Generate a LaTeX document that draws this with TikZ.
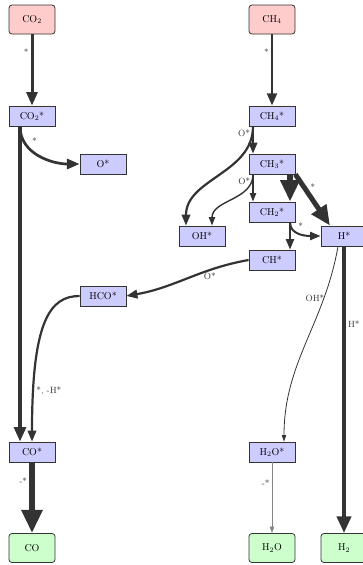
\documentclass[tikz,border=0pt]{standalone}
\usetikzlibrary{arrows.meta,positioning}
\definecolor{gasred}{HTML}{FFCCCC}
\definecolor{adsblue}{HTML}{CCCCFF}
\definecolor{prodgreen}{HTML}{CCFFCC}
\definecolor{edgegray}{HTML}{333333}

\begin{document}
\begin{tikzpicture}[
    x=1pt, y=1pt,
    box/.style={draw=edgegray, line width=0.8pt, minimum width=46pt, inner sep=1pt},
    gas/.style={box, rounded corners=3pt, fill=gasred, minimum height=29pt},
    prod/.style={box, rounded corners=3pt, fill=prodgreen, minimum height=29pt},
    ads/.style={box, fill=adsblue, minimum height=20pt},
    line/.style={draw=edgegray, -{Triangle[length=4pt 3.2, width=2pt 3]}},
    lbl/.style={font=\small, text=edgegray, inner sep=2pt}
]
\useasboundingbox (0,0) rectangle (362,-565);

% Gas phase
\node[gas] (co2) at (32,-19.5) {CO$_2$};
\node[gas] (ch4) at (272,-19.5) {CH$_4$};

% Adsorbed species
\node[ads] (co2s) at (32,-116) {CO$_2$*};
\node[ads] (os) at (103,-164) {O*};
\node[ads] (ch4s) at (272,-116) {CH$_4$*};
\node[ads] (ch3s) at (272,-164) {CH$_3$*};
\node[ads] (ohs) at (202,-236) {OH*};
\node[ads] (ch2s) at (272,-212) {CH$_2$*};
\node[ads] (hs) at (344,-236) {H*};
\node[ads] (chs) at (272,-260) {CH*};
\node[ads] (hcos) at (103,-296) {HCO*};
\node[ads] (cos) at (32,-452) {CO*};
\node[ads] (h2os) at (272,-452) {H$_2$O*};

% Products
\node[prod] (co) at (32,-548) {CO};
\node[prod] (h2o) at (272,-548) {H$_2$O};
\node[prod] (h2) at (344,-548) {H$_2$};

% CO2 side
\draw[line, line width=3pt] (co2) -- node[lbl, left, pos=0.25] {*} (co2s);
\draw[line, line width=2.7pt] ([xshift=-12pt]co2s.south) to[out=-90,in=180] node[lbl, above right, pos=0.32] {*} (os.west);
\draw[line, line width=3.3pt] ([xshift=-12pt]co2s.south) -- ([xshift=-12pt]cos.north);
\draw[line, line width=2.2pt] (hcos.west) to[out=180,in=90,out distance=30pt,in distance=120pt] node[lbl, right, pos=0.84] {*, -H*} (cos.north);
\draw[line, line width=6pt] (cos) -- node[lbl, left, pos=0.27] {-*} (co);

% CH4 side
\draw[line, line width=2.6pt] (ch4) -- node[lbl, left, pos=0.25] {*} (ch4s);
\draw[line, line width=2.2pt] ([xshift=-19pt]ch4s.south) -- node[lbl, left, pos=0.25] {O*} ([xshift=-19pt]ch3s.north);
\draw[line, line width=2.2pt] ([xshift=-19pt]ch4s.south) to[out=-90,in=90] ([xshift=-16pt]ohs.north);
\draw[line, line width=1.4pt] ([xshift=-19pt]ch3s.south) -- node[lbl, left, pos=0.25] {O*} ([xshift=-19pt]ch2s.north);
\draw[line, line width=1.4pt] ([xshift=-19pt]ch3s.south) to[out=-90,in=90] ([xshift=10pt]ohs.north);
\draw[line, line width=5.5pt] ([xshift=18pt]ch3s.south) -- ([xshift=18pt]ch2s.north);
\draw[line, line width=5pt] (ch3s.south east) -- node[lbl, right, pos=0.25, xshift=2pt] {*} ([xshift=-14pt]hs.north);
\draw[line, line width=2pt] ([xshift=18pt]ch2s.south) -- ([xshift=18pt]chs.north);
\draw[line, line width=2pt] ([xshift=18pt]ch2s.south) to[out=-90,in=180] node[lbl, above right, pos=0.35] {*} (hs.west);
\draw[line, line width=2.2pt] (chs.west) to[out=190,in=10] node[lbl, below, pos=0.3] {O*} (hcos.east);
\draw[line, line width=0.8pt] ([xshift=-6pt]hs.south) to[out=-100,in=90] node[lbl, left, pos=0.25, xshift=3pt] {OH*} ([xshift=12pt]h2os.north);
\draw[line, line width=4pt] (hs) -- node[lbl, right, pos=0.27] {H*} (h2);
\draw[line, line width=0.8pt, draw=edgegray!60] (h2os) -- node[lbl, left, pos=0.3] {-*} (h2o);

\end{tikzpicture}
\end{document}
